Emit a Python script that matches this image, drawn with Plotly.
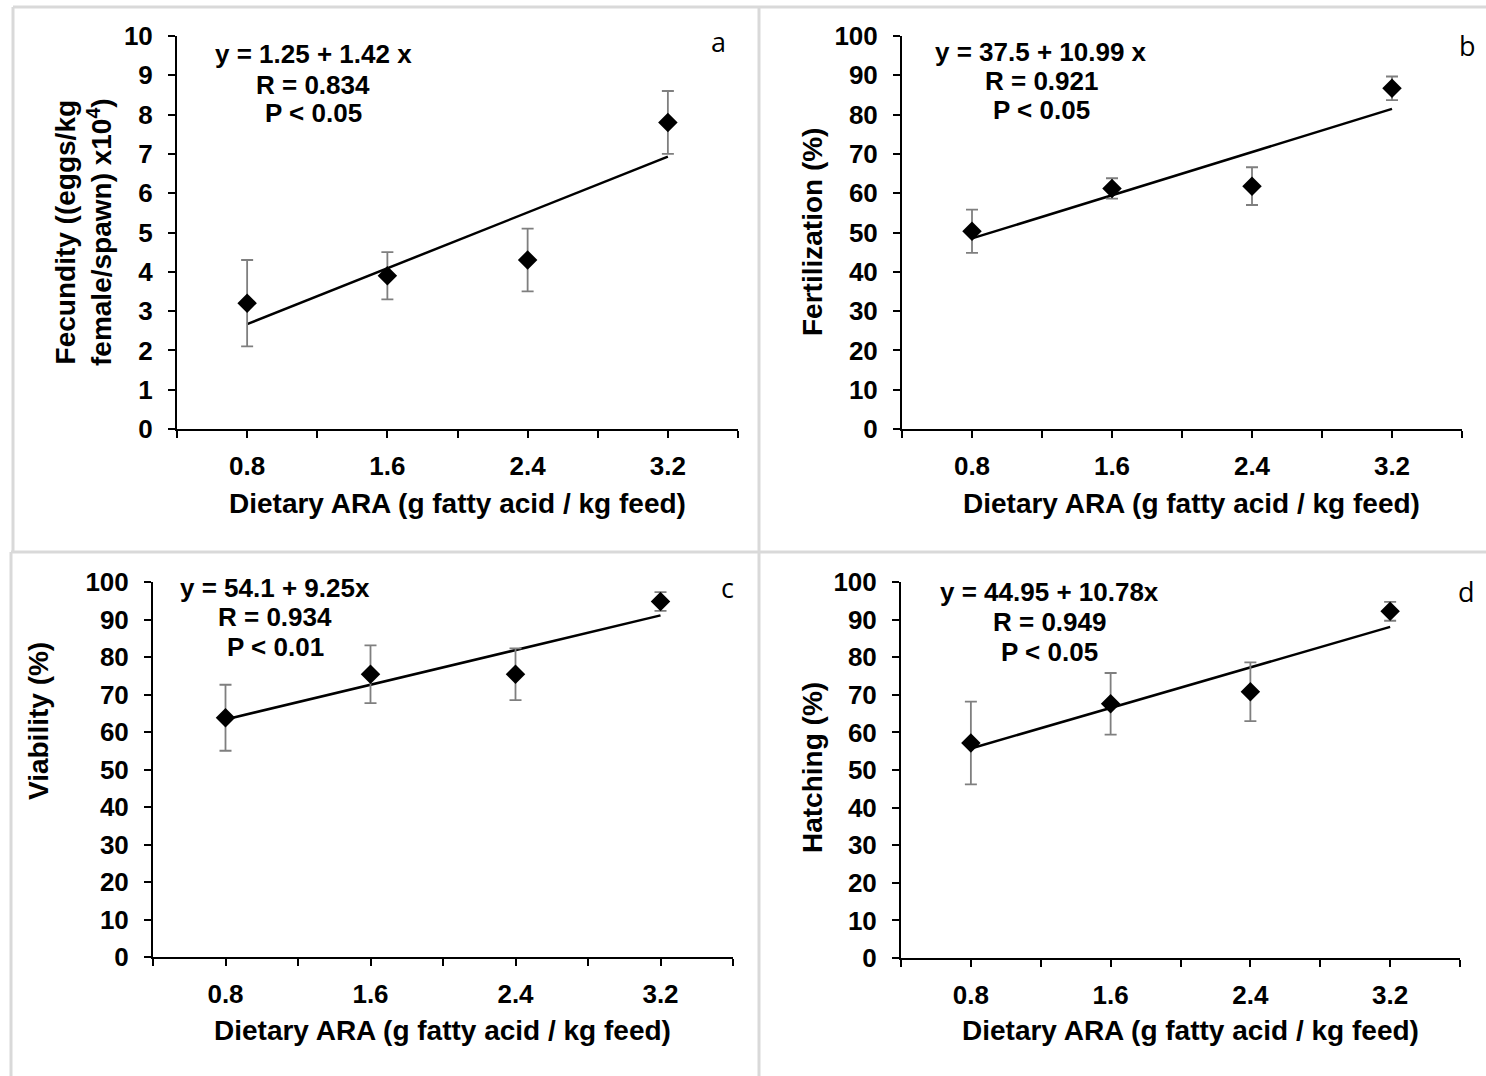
import plotly.graph_objects as go

W, H = 1486, 1076

# ---- data ----
dietary_ara = [0.8, 1.6, 2.4, 3.2]
x_tick_labels = ["0.8", "1.6", "2.4", "3.2"]

fecundity = [3.2, 3.9, 4.3, 7.8]
fecundity_err = [1.1, 0.6, 0.8, 0.8]
fertilization = [50.3, 61.2, 61.8, 86.7]
fertilization_err = [5.5, 2.6, 4.8, 3.0]
viability = [63.8, 75.4, 75.4, 94.8]
viability_err = [8.8, 7.7, 6.9, 2.5]
hatching = [57.2, 67.6, 70.8, 92.2]
hatching_err = [11.0, 8.2, 7.8, 2.5]

# regression coefficients (intercept, slope on treatment index 1..4)
reg_a = (1.25, 1.42)
reg_b = (37.5, 10.99)
reg_c = (54.1, 9.25)
reg_d = (44.95, 10.78)

eq_a = ["y = 1.25 + 1.42 x", "R = 0.834", "P < 0.05"]
eq_b = ["y = 37.5 + 10.99 x", "R = 0.921", "P < 0.05"]
eq_c = ["y = 54.1 + 9.25x", "R = 0.934", "P < 0.01"]
eq_d = ["y = 44.95 + 10.78x", "R = 0.949", "P < 0.05"]

x_title = "Dietary ARA (g fatty acid / kg feed)"

FONT = "Liberation Sans, Arial, sans-serif"


def px(x):
    return x / W


def py(y):
    return 1 - y / H


fig = go.Figure()

panels = [
    dict(v=fecundity, e=fecundity_err, reg=reg_a, eq=eq_a, xd=(177, 738), yd=(36, 429),
         ymax=10, dt=1, letter="a", lp=(718, 42), ex=313, ey=(54, 85, 113),
         ytitle="Fecundity ((eggs/kg<br>female/spawn) x10<sup>4</sup>)", yt=(83, 232),
         xt=(457, 503)),
    dict(v=fertilization, e=fertilization_err, reg=reg_b, eq=eq_b, xd=(902, 1462), yd=(36, 429),
         ymax=100, dt=10, letter="b", lp=(1467, 46), ex=1041, ey=(52, 81, 110),
         ytitle="Fertilization (%)", yt=(812, 232), xt=(1191, 503)),
    dict(v=viability, e=viability_err, reg=reg_c, eq=eq_c, xd=(153, 733), yd=(582, 957),
         ymax=100, dt=10, letter="c", lp=(727, 587), ex=275, ey=(588, 617, 647),
         ytitle="Viability (%)", yt=(38, 721), xt=(442, 1030)),
    dict(v=hatching, e=hatching_err, reg=reg_d, eq=eq_d, xd=(901, 1460), yd=(582, 958),
         ymax=100, dt=10, letter="d", lp=(1466, 591), ex=1049, ey=(592, 622, 652),
         ytitle="Hatching (%)", yt=(812, 767), xt=(1190, 1030)),
]

annotations = []
for i, p in enumerate(panels):
    n = "" if i == 0 else str(i + 1)
    xa, ya = "x" + n, "y" + n
    b0, b1 = p["reg"]
    xline = [dietary_ara[0], dietary_ara[-1]]
    yline = [b0 + b1 * (xv / dietary_ara[0]) for xv in xline]
    fig.add_trace(go.Scatter(x=xline, y=yline, mode="lines",
                             line=dict(color="black", width=2.5),
                             xaxis=xa, yaxis=ya, showlegend=False, hoverinfo="skip"))
    fig.add_trace(go.Scatter(x=dietary_ara, y=p["v"], mode="markers",
                             marker=dict(symbol="diamond", size=15, color="black"),
                             error_y=dict(type="data", array=p["e"], visible=True,
                                          color="#7f7f7f", thickness=1.8, width=6),
                             xaxis=xa, yaxis=ya, showlegend=False))
    axis_common = dict(showline=True, linecolor="black", linewidth=2, showgrid=False,
                       zeroline=False, ticks="outside", tickcolor="black", tickwidth=2,
                       ticklen=7, automargin=False,
                       tickfont=dict(family=FONT, size=26, color="black", weight="bold"))
    fig.layout["xaxis" + n] = dict(
        domain=[px(p["xd"][0]), px(p["xd"][1])], anchor=ya, range=[0.4, 3.6],
        tickmode="array", tickvals=dietary_ara, ticktext=x_tick_labels,
        minor=dict(tick0=0.4, dtick=0.4, ticks="outside", ticklen=7, tickwidth=2,
                   tickcolor="black", showgrid=False),
        ticklabelstandoff=6, **axis_common)
    fig.layout["yaxis" + n] = dict(
        domain=[py(p["yd"][1]), py(p["yd"][0])], anchor=xa, range=[0, p["ymax"]],
        tickmode="linear", tick0=0, dtick=p["dt"], ticklabelstandoff=10, **axis_common)

    for txt, yy in zip(p["eq"], p["ey"]):
        annotations.append(dict(text=txt, x=px(p["ex"]), y=py(yy), xref="paper", yref="paper",
                                showarrow=False, xanchor="center", yanchor="middle",
                                font=dict(family=FONT, size=26, color="black", weight="bold")))
    annotations.append(dict(text=p["letter"], x=px(p["lp"][0]), y=py(p["lp"][1]),
                            xref="paper", yref="paper", showarrow=False,
                            xanchor="center", yanchor="middle",
                            font=dict(family="Open Sans, Liberation Sans, sans-serif",
                                      size=27, color="black")))
    annotations.append(dict(text=p["ytitle"], x=px(p["yt"][0]), y=py(p["yt"][1]),
                            xref="paper", yref="paper", showarrow=False, textangle=-90,
                            xanchor="center", yanchor="middle",
                            font=dict(family=FONT, size=28, color="black", weight="bold")))
    annotations.append(dict(text=x_title, x=px(p["xt"][0]), y=py(p["xt"][1]),
                            xref="paper", yref="paper", showarrow=False,
                            xanchor="center", yanchor="middle",
                            font=dict(family=FONT, size=28, color="black", weight="bold")))

border = dict(color="#d9d9d9", width=3)
shapes = [
    dict(type="line", xref="paper", yref="paper", x0=px(13), x1=1, y0=py(7), y1=py(7), line=border),
    dict(type="line", xref="paper", yref="paper", x0=px(13), x1=px(13), y0=py(7), y1=py(552), line=border),
    dict(type="line", xref="paper", yref="paper", x0=px(11), x1=px(11), y0=py(552), y1=0, line=border),
    dict(type="line", xref="paper", yref="paper", x0=px(11), x1=1, y0=py(552), y1=py(552), line=border),
    dict(type="line", xref="paper", yref="paper", x0=px(759), x1=px(759), y0=py(7), y1=0, line=border),
]

fig.update_layout(width=W, height=H, margin=dict(l=0, r=0, t=0, b=0, pad=0, autoexpand=False),
                  paper_bgcolor="white", plot_bgcolor="white",
                  annotations=annotations, shapes=shapes, showlegend=False)

fig.write_html("out.html", config={"displayModeBar": False},
               post_script="document.body.style.margin='0';document.body.style.overflow='hidden';")
